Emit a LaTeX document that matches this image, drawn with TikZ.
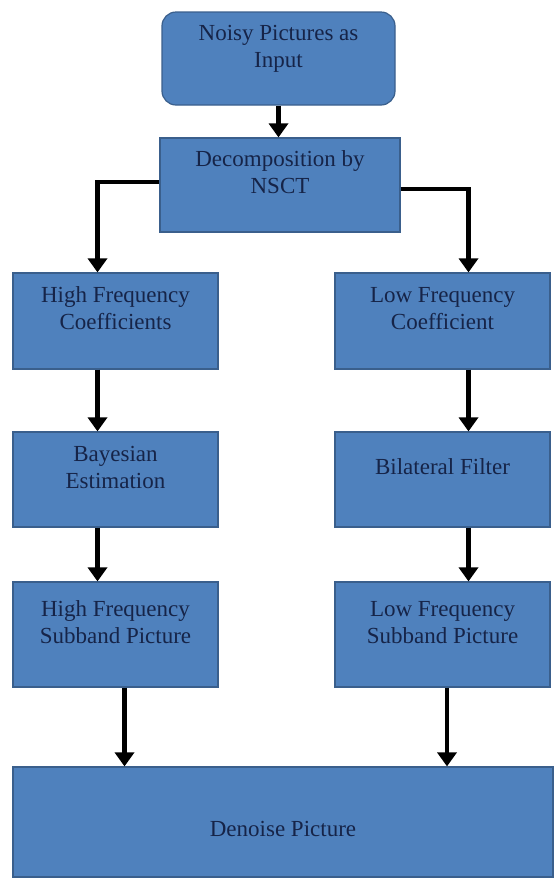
\documentclass[tikz,border=0pt]{standalone}
\usepackage{fontspec}
\setmainfont{Liberation Serif}
\usetikzlibrary{arrows.meta}
\definecolor{boxblue}{RGB}{79,129,189}
\definecolor{boxedge}{RGB}{58,95,140}
\definecolor{boxtext}{RGB}{22,36,72}

\begin{document}
\begin{tikzpicture}[x=1pt,y=-1pt,
  block node/.style={rectangle,draw=boxedge,line width=1.2pt,fill=boxblue,text=boxtext,align=center,inner sep=0pt,font=\fontsize{23}{27}\selectfont,text depth=25pt},
  start node/.style={block node,rounded corners=14pt},
  flow/.style={-{Triangle[width=19pt,length=14pt]},line width=4.5pt,black}]
  \useasboundingbox (0,0) rectangle (555,879);

  \node[start node,minimum width=233pt,minimum height=93pt] (input) at (278.5,58.5) {Noisy Pictures as\\Input};
  \node[block node,minimum width=240pt,minimum height=94pt] (dec) at (280,185) {Decomposition by\\NSCT};
  \node[block node,minimum width=205pt,minimum height=96pt] (hfc) at (115.5,321) {High Frequency\\Coefficients};
  \node[block node,minimum width=215pt,minimum height=96pt] (lfc) at (442.5,321) {Low Frequency\\Coefficient};
  \node[block node,minimum width=205pt,minimum height=95pt] (bayes) at (115.5,479.5) {Bayesian\\Estimation};
  \node[block node,minimum width=215pt,minimum height=95pt] (bilat) at (442.5,479.5) {Bilateral Filter};
  \node[block node,minimum width=205pt,minimum height=105pt] (hfs) at (115.5,634.5) {High Frequency\\Subband Picture};
  \node[block node,minimum width=215pt,minimum height=105pt] (lfs) at (442.5,634.5) {Low Frequency\\Subband Picture};
  \node[block node,minimum width=540pt,minimum height=110pt,text depth=5pt,text height=34pt] (denoise) at (283,822) {Denoise Picture};

 \path[] (input.south) [flow] edge node [] {} (input.south |- dec.north);
 \path[] ([yshift=3pt]dec.west) [flow] edge[to path={-| (\tikztotarget)}] node [] {} ([xshift=-18pt]hfc.north);
 \path[] ([yshift=-4pt]dec.east) [flow] edge[to path={-| (\tikztotarget)}] node [] {} ([xshift=26pt]lfc.north);
 \path[] ([xshift=-18pt]hfc.south) [flow] edge node [] {} ([xshift=-18pt]bayes.north);
 \path[] ([xshift=26pt]lfc.south) [flow] edge node [] {} ([xshift=26pt]bilat.north);
 \path[] ([xshift=-18pt]bayes.south) [flow] edge node [] {} ([xshift=-18pt]hfs.north);
 \path[] ([xshift=26pt]bilat.south) [flow] edge node [] {} ([xshift=26pt]lfs.north);
 \path[] ([xshift=9pt]hfs.south) [flow] edge node [] {} ([xshift=9pt]hfs.south |- denoise.north);
 \path[] ([xshift=4.5pt]lfs.south) [flow] edge node [] {} ([xshift=4.5pt]lfs.south |- denoise.north);
\end{tikzpicture}
\end{document}
